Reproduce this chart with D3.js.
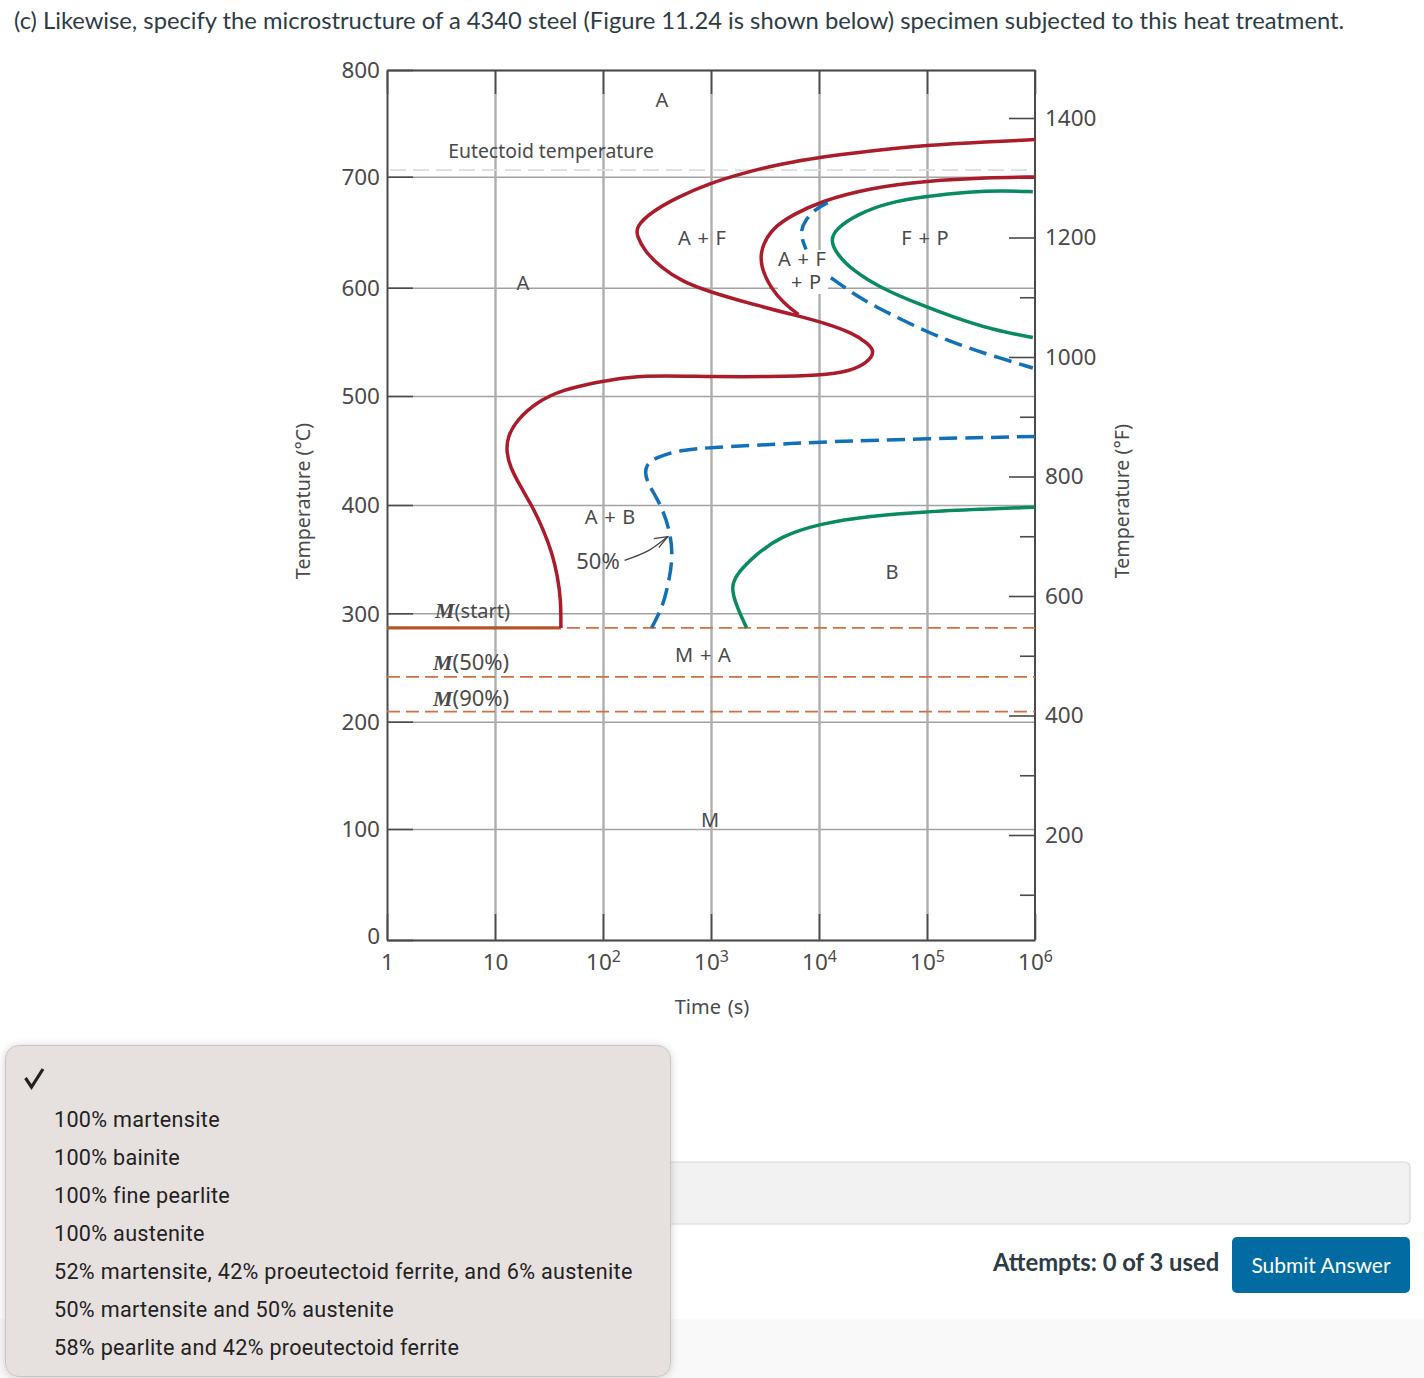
<!DOCTYPE html>
<html><head><meta charset="utf-8">
<style>html,body{margin:0;padding:0;background:#fff}svg{display:block}</style>
<script src="https://cdn.jsdelivr.net/npm/d3@7"></script></head><body>
<svg id="c" width="1424" height="1378"></svg>
<script>
// Axis values
const tempTicksC=[0,100,200,300,400,500,600,700,800];
const tempMajorF=[200,400,600,800,1000,1200,1400];
const tempMinorF=[100,300,500,700,900,1100,1300];
const timeDecades=[0,1,2,3,4,5,6];
const timeLabels=["1","10","10|2","10|3","10|4","10|5","10|6"];
// Curves: log10(time in s) and temperature in C
const startLogT=[6.00,5.56,5.00,4.47,4.01,3.64,3.33,2.99,2.69,2.44,2.31,2.31,2.39,2.53,2.74,2.99,3.33,3.76,4.07,4.31,4.45,4.52,4.45,4.29,4.01,3.55,3.02,2.56,2.25,1.94,1.63,1.39,1.20,1.115,1.105,1.14,1.23,1.35,1.44,1.53,1.58,1.61,1.61];
const startTemp=[736,734,731,725.5,720,713.6,706,696,683,669,656,648,633,619,605,596,586,575,567,558,549,541,531,523,519,518,518,519,518,513,506,495,478,462.5,449,435,418,398,379,356,334,313,287];
const pearliteStartLogT=[6.00,5.56,5.00,4.47,4.01,3.76,3.57,3.46,3.46,3.55,3.67,3.81];
const pearliteStartTemp=[701.6,701,698,691.5,679,667,655,636,619,600,586,575];
const pearliteEndLogT=[5.98,5.70,5.40,5.00,4.63,4.35,4.17,4.10,4.17,4.31,4.56,4.94,5.24,5.61,5.98];
const pearliteEndTemp=[688,689,688,684,678,667,655,644,630,616,600,584,573,561,554];
const fiftyUpperALogT=[4.08,3.98,3.87,3.82,3.88];
const fiftyUpperATemp=[678,673,662,650,635];
const fiftyUpperBLogT=[4.11,4.38,4.63,5.00,5.31,5.61,5.98];
const fiftyUpperBTemp=[609,590,577,559,547,537,526];
const fiftyLowerLogT=[6.00,5.00,4.01,3.64,3.02,2.71,2.50,2.39,2.39,2.53,2.62,2.65,2.60,2.55,2.45];
const fiftyLowerTemp=[463,461,458,456,453,450.6,444,437,423,402,377,352,325,306,287];
const bainiteEndLogT=[6.00,5.49,5.00,4.47,4.01,3.64,3.41,3.25,3.18,3.24,3.33];
const bainiteEndTemp=[398,396,394,390,383,371,354,338,325,306,287];
const mStartTemp=287, m50Temp=242, m90Temp=210, eutectoidTemp=708, mStartNoseLogT=1.61;
const menuOptions=["100% martensite","100% bainite","100% fine pearlite","100% austenite","52% martensite, 42% proeutectoid ferrite, and 6% austenite","50% martensite and 50% austenite","58% pearlite and 42% proeutectoid ferrite"];
// printed axis as digitised: pixel positions of the 100-degree grid lines
const gridRangeC=[940,829,721.7,613.3,505,396,287.7,176.7,70];

const svg=d3.select("#c");
const CF="'Noto Sans',sans-serif", UI="Lato,sans-serif";
const x=d3.scaleLog().domain([1,1e6]).range([387,1035]);
const y=d3.scaleLinear().domain([0,800]).range([940,70]);
const yGrid=d3.scaleLinear().domain(tempTicksC).range(gridRangeC);
const yF=d3.scaleLinear().domain([200,1400]).range([835,118]);
const X=e=>x(Math.pow(10,e));
const INK="#4a4a4a", GRID="#aeaeae", RED="#ab1c2a", GREEN="#0a8a63", BLUE="#1170b8", ORANGE="#d0703f";

// page furniture
svg.append("rect").attr("x",0).attr("y",1319).attr("width",1424).attr("height",59).attr("fill","#f9f9f9");
svg.append("text").attr("x",14).attr("y",29).attr("font-family",UI).attr("font-size",23.75).attr("fill","#2d3b45").text("(c) Likewise, specify the microstructure of a 4340 steel (Figure 11.24 is shown below) specimen subjected to this heat treatment.");
svg.append("rect").attr("x",640).attr("y",1162).attr("width",770).attr("height",62).attr("rx",5).attr("fill","#f2f2f2").attr("stroke","#d8d8d8").attr("stroke-width",1.2);
svg.append("text").attr("x",993).attr("y",1271).attr("font-family",UI).attr("font-weight",700).attr("font-size",23.8).attr("fill","#2d3b45").text("Attempts: 0 of 3 used");
svg.append("rect").attr("x",1232).attr("y",1237).attr("width",178).attr("height",56).attr("rx",5).attr("fill","#026ca2");
svg.append("text").attr("x",1321).attr("y",1273).attr("text-anchor","middle").attr("font-family",UI).attr("font-size",21).attr("fill","#fff").text("Submit Answer");

// grid via axes
const gridH=svg.append("g").attr("transform","translate(387,0)").call(d3.axisRight(yGrid).tickValues(tempTicksC).tickSize(648).tickFormat(""));
gridH.select(".domain").remove();
gridH.selectAll("line").attr("stroke","#a2a2a2").attr("stroke-width",1.6);
const gridV=svg.append("g").attr("transform","translate(0,70)").call(d3.axisBottom(x).tickValues(timeDecades.slice(1,6).map(e=>Math.pow(10,e))).tickSize(870).tickFormat(""));
gridV.select(".domain").remove();
gridV.selectAll("line").attr("stroke",GRID).attr("stroke-width",2.4);

// eutectoid dashed
svg.append("line").attr("x1",390).attr("x2",1035).attr("y1",y(eutectoidTemp)).attr("y2",y(eutectoidTemp)).attr("stroke","#dcdcdc").attr("stroke-width",1.8).attr("stroke-dasharray","16 7");

// frame ticks
function styleAxis(g){g.selectAll("line").attr("stroke",INK).attr("stroke-width",1.6);g.select(".domain").attr("stroke",INK).attr("stroke-width",2);g.selectAll("text").attr("font-family",CF).attr("font-size",22.5).attr("fill",INK);}
const left=svg.append("g").attr("transform","translate(387,0)").call(d3.axisLeft(yGrid).tickValues(tempTicksC).tickSizeInner(-26).tickSizeOuter(0).tickPadding(7).tickFormat(d3.format("d"))).call(styleAxis);
left.selectAll("text").attr("dy",d=>d===0?"0.14em":"0.35em");
const bottom=svg.append("g").attr("transform","translate(0,940)").call(d3.axisBottom(x).tickValues(timeDecades.map(e=>Math.pow(10,e))).tickSizeInner(-26).tickSizeOuter(0).tickPadding(0).tickFormat("")).call(styleAxis);
bottom.selectAll("text").attr("y",30).attr("dy",0).each(function(d,i){
  const p=timeLabels[i].split("|"),t=d3.select(this).text(p[0]);
  if(p[1])t.append("tspan").attr("dy",-8).attr("font-size",16).text(p[1]);
});
const top_=svg.append("g").attr("transform","translate(0,70)").call(d3.axisTop(x).tickValues(timeDecades.map(e=>Math.pow(10,e))).tickSizeInner(-24).tickSizeOuter(0).tickFormat("")).call(styleAxis);
const rightMajor=svg.append("g").attr("transform","translate(1035,0)").call(d3.axisRight(yF).tickValues(tempMajorF).tickSizeInner(-26).tickSizeOuter(0).tickPadding(10).tickFormat(d3.format("d"))).call(styleAxis);
rightMajor.select(".domain").remove();
rightMajor.selectAll("text").attr("dy","0.33em");
const rightMinor=svg.append("g").attr("transform","translate(1035,0)").call(d3.axisRight(yF).tickValues(tempMinorF).tickSizeInner(-15).tickSizeOuter(0).tickFormat("")).call(styleAxis);
rightMinor.select(".domain").remove();
svg.append("line").attr("x1",1035).attr("x2",1035).attr("y1",70).attr("y2",940).attr("stroke",INK).attr("stroke-width",2);

// label helper
function lab(t,px,py,s){return svg.append("text").attr("x",px).attr("y",py).attr("text-anchor","middle").attr("font-family",CF).attr("font-size",s||20).attr("word-spacing",1.5).attr("fill",INK).text(t);}
svg.append("rect").attr("x",778).attr("y",250).attr("width",50).attr("height",44).attr("fill","#fff");
svg.append("text").attr("x",551).attr("y",158).attr("text-anchor","middle").attr("font-family",CF).attr("font-size",19.4).attr("fill",INK).text("Eutectoid temperature");
lab("A",662,107);lab("A + F",702,245);lab("A + F",802,266);lab("+ P",806,289);lab("F + P",925,245);
lab("A",523,290);lab("A + B",610,524);lab("50%",598,569,22);lab("B",892,579);lab("M + A",703,662);lab("M",710,827);
lab("Time (s)",712,1014);
svg.append("text").attr("transform","translate(310,501) rotate(-90)").attr("text-anchor","middle").attr("font-family",CF).attr("font-size",19.6).attr("fill",INK).text("Temperature (°C)");
svg.append("text").attr("transform","translate(1129,501) rotate(-90)").attr("text-anchor","middle").attr("font-family",CF).attr("font-size",19.6).attr("fill",INK).text("Temperature (°F)");
function mLab(rest,px,py,s){const t=svg.append("text").attr("x",px).attr("y",py).attr("font-family",CF).attr("font-size",s).attr("fill",INK);
  t.append("tspan").attr("font-family","'Liberation Serif',serif").attr("font-style","italic").attr("font-weight",700).attr("font-size",22).text("M");t.append("tspan").text(rest);}
mLab("(start)",435,618,20);mLab("(50%)",433,670,22);mLab("(90%)",433,706,22);

// curves
const line=d3.line().x(d=>X(d[0])).y(d=>y(d[1])).curve(d3.curveBasis);
const zip=(a,b)=>a.map((v,i)=>[v,b[i]]);
function curve(a,b,col,dash){svg.append("path").attr("d",line(zip(a,b))).attr("fill","none").attr("stroke",col).attr("stroke-width",3.5).attr("stroke-dasharray",dash||null);}
// martensite lines
svg.append("line").attr("x1",387).attr("x2",X(mStartNoseLogT)).attr("y1",y(mStartTemp)).attr("y2",y(mStartTemp)).attr("stroke","#b5562a").attr("stroke-width",3.4);
svg.append("line").attr("x1",X(mStartNoseLogT)+6).attr("x2",1035).attr("y1",y(mStartTemp)).attr("y2",y(mStartTemp)).attr("stroke",ORANGE).attr("stroke-width",1.8).attr("stroke-dasharray","13 6");
[m50Temp,m90Temp].forEach(t=>svg.append("line").attr("x1",387).attr("x2",1035).attr("y1",y(t)).attr("y2",y(t)).attr("stroke",ORANGE).attr("stroke-width",1.8).attr("stroke-dasharray","13 6"));
curve(startLogT,startTemp,RED);
curve(pearliteStartLogT,pearliteStartTemp,RED);
curve(pearliteEndLogT,pearliteEndTemp,GREEN);
curve(bainiteEndLogT,bainiteEndTemp,GREEN);
curve(fiftyUpperALogT,fiftyUpperATemp,BLUE,"16 8");
curve(fiftyUpperBLogT,fiftyUpperBTemp,BLUE,"18 8");
curve(fiftyLowerLogT,fiftyLowerTemp,BLUE,"18 8");
// arrow
const arrowLogT=[2.20,2.42,2.60], arrowTemp=[349,358,371];
svg.append("path").attr("d",d3.line().x(d=>X(d[0])).y(d=>y(d[1])).curve(d3.curveNatural)(zip(arrowLogT,arrowTemp))).attr("fill","none").attr("stroke","#444").attr("stroke-width",1.3);
svg.append("path").attr("d",d3.line()([[X(2.60)-14,y(371)+2],[X(2.60),y(371)],[X(2.60)-9,y(371)+11]])).attr("fill","none").attr("stroke","#444").attr("stroke-width",1.3);

// dropdown
const sh=svg.append("defs").append("filter").attr("id","sh").attr("x","-5%").attr("y","-5%").attr("width","110%").attr("height","110%");
sh.append("feDropShadow").attr("dx",0).attr("dy",1).attr("stdDeviation",4).attr("flood-color","#000").attr("flood-opacity",0.18);
svg.append("rect").attr("x",5.5).attr("y",1045.5).attr("width",665).attr("height",331).attr("rx",13).attr("fill","#e6e0df").attr("stroke","#c9c5c4").attr("filter","url(#sh)");
svg.append("path").attr("d","M25.5 1078 L31.5 1087 L43 1069").attr("fill","none").attr("stroke","#222").attr("stroke-width",3.2);
svg.selectAll("text.opt").data(menuOptions).join("text").attr("class","opt").attr("x",54).attr("y",(d,i)=>1126.5+i*38).attr("font-family","Roboto,sans-serif").attr("font-size",21.6).attr("letter-spacing",0.3).attr("fill","#222").text(d=>d);
</script></body></html>
